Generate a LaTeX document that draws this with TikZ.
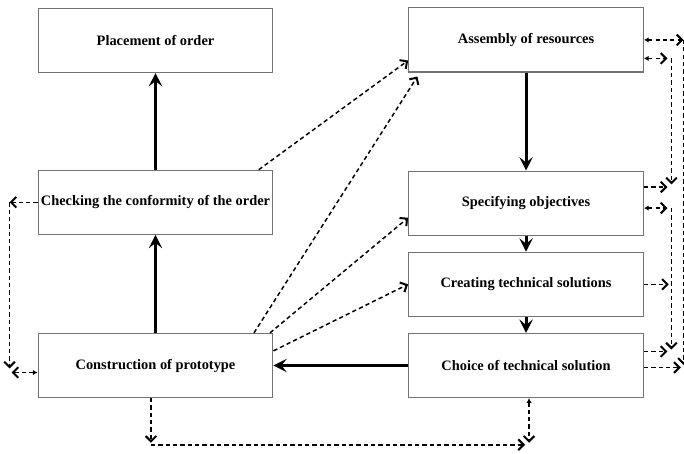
\documentclass[tikz,border=0pt]{standalone}
\usepackage{fontspec}
\setmainfont{Liberation Serif}
\usepackage{tikz}
\usetikzlibrary{arrows.meta,positioning}

\tikzset{
  box/.style={rectangle, draw=black!55, line width=0.9pt, minimum width=176pt, minimum height=48pt, inner sep=1pt, font=\fontsize{10.8}{13}\selectfont\bfseries},
  flow/.style={line width=2.3pt, -{Stealth[length=10pt,width=10pt,inset=4pt]}},
  link/.style={line width=1.1pt, dash pattern=on 3.2pt off 2.3pt, -{Straight Barb[length=4pt,width=8pt,line width=1.5pt]}},
  twoway/.style={link, {Latex[length=3.5pt,width=4pt]}-{Straight Barb[length=4pt,width=8pt,line width=1.5pt]}},
}

\begin{document}
\begin{tikzpicture}[x=0.75pt, y=-0.75pt, node distance=73.5pt and 101pt]
    \useasboundingbox (0,0) rectangle (684,453);

    % left column
    \node (build) [box] at (155.5,365.5) {Construction of prototype};
    \node (check) [box, above=of build] {Checking the conformity of the order};
    \node (order) [box, above=72.5pt of check] {Placement of order};

    % right column
    \node (choice) [box, right=of build] {Choice of technical solution};
    \node (create) [box, above=12pt of choice] {Creating technical solutions};
    \node (spec) [box, above=12pt of create] {Specifying objectives};
    \node (assem) [box, above=of spec] {Assembly of resources};

    \draw [flow] (build) -- (check);
    \draw [flow] (check) -- (order);
    \draw [flow] (assem) -- (spec);
    \draw [flow] (spec) -- (create);
    \draw [flow] (create) -- (choice);
    \draw [flow] (choice) -- (build);

    \draw [link] ([xshift=-11pt]check.north east) -- ([yshift=9pt]assem.south west);
    \draw [link] ([xshift=-14.6pt]build.north east) -- ([xshift=7pt,yshift=-3pt]assem.south west);
    \draw [link] ([xshift=-2.6pt]build.north east) -- ([yshift=-11pt]spec.west);
    \draw [link] ([yshift=11pt]build.east) -- (create.west);

    % feedback on the right
    \coordinate (outA) at ([xshift=29.6pt]assem.east);
    \coordinate (outB) at ([xshift=29.6pt,yshift=-1.5pt]choice.east);
    \draw [twoway] (assem.east) -- (outA);
    \draw [link] (outA) -- ([yshift=2pt]outB);
    \draw [link, shorten >=2pt] ([yshift=-1.5pt]choice.east) -- (outB);

    \coordinate (inA) at ([xshift=20.6pt,yshift=-13.9pt]assem.east);
    \coordinate (inB) at ([xshift=20.6pt,yshift=12pt]spec.east);
    \draw [twoway, shorten >=3pt] ([yshift=-13.9pt]assem.east) -- (inA);
    \draw [link] (inA) -- ([yshift=2pt]inB);
    \draw [link, shorten >=3pt] ([yshift=12pt]spec.east) -- (inB);

    \coordinate (inC) at ([xshift=20.6pt,yshift=-3.75pt]spec.east);
    \coordinate (inD) at ([xshift=20.6pt,yshift=10.5pt]choice.east);
    \coordinate (inE) at (create.east -| inC);
    \draw [twoway, shorten >=3pt] ([yshift=-3.75pt]spec.east) -- (inC);
    \draw [link] (inC) -- ([yshift=1.5pt]inD);
    \draw [link, shorten >=2pt] (create.east) -- (inE);
    \draw [link, shorten >=3pt] ([yshift=10.5pt]choice.east) -- (inD);

    % feedback on the left
    \coordinate (lfA) at ([xshift=-21pt]check.west);
    \coordinate (lfB) at ([xshift=-21pt,yshift=-5.25pt]build.west);
    \draw [link] (check.west) -- (lfA);
    \draw [link] (lfA) -- ([yshift=3pt]lfB);
    \draw [twoway, shorten >=1.5pt] ([yshift=-5.25pt]build.west) -- (lfB);

    % feedback below
    \coordinate (btA) at ([xshift=-3.4pt,yshift=-35pt]build.south);
    \coordinate (btB) at ([xshift=2.25pt,yshift=-35pt]choice.south);
    \draw [link] ([xshift=-3.4pt]build.south) -- ([yshift=1.5pt]btA);
    \draw [link, shorten >=3pt] (btA) -- (btB);
    \draw [twoway] ([xshift=2.25pt]choice.south) -- ([yshift=1.5pt]btB);
\end{tikzpicture}
\end{document}
